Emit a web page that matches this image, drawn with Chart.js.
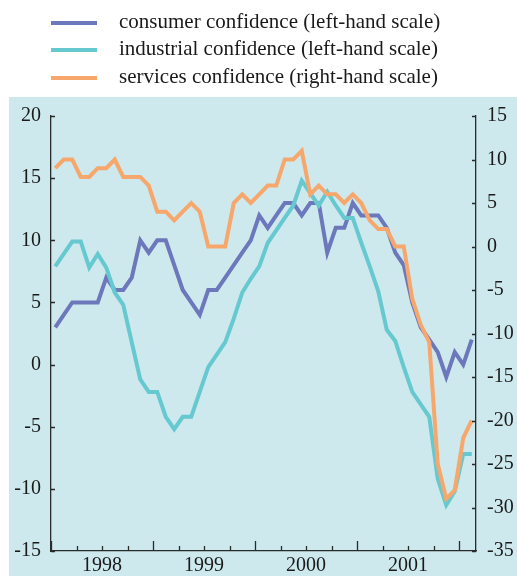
<!DOCTYPE html>
<html>
<head>
<meta charset="utf-8">
<script src="https://cdn.jsdelivr.net/npm/chart.js@4.4.1/dist/chart.umd.min.js"></script>
<style>
  body { margin: 0; background: #fff; }
  #wrap { position: relative; width: 517px; height: 576px; overflow: hidden; }
  #chart { position: absolute; left: 0; top: 0; }
  .row { position: absolute; left: 0; height: 24px; width: 517px; }
  .swatch { position: absolute; left: 51px; width: 46px; height: 4px; }
  .label { position: absolute; left: 119px; top: 0; font: 21px/24px "Liberation Serif", serif; color: #1a1a1a; white-space: nowrap; }
</style>
</head>
<body>
<div id="wrap">
  <canvas id="chart" width="517" height="576"></canvas>
  <div id="legend"></div>
</div>
<script>
// monthly, Jan 1998 - Feb 2002
const months = ['1998-01','1998-02','1998-03','1998-04','1998-05','1998-06','1998-07','1998-08','1998-09','1998-10','1998-11','1998-12',
  '1999-01','1999-02','1999-03','1999-04','1999-05','1999-06','1999-07','1999-08','1999-09','1999-10','1999-11','1999-12',
  '2000-01','2000-02','2000-03','2000-04','2000-05','2000-06','2000-07','2000-08','2000-09','2000-10','2000-11','2000-12',
  '2001-01','2001-02','2001-03','2001-04','2001-05','2001-06','2001-07','2001-08','2001-09','2001-10','2001-11','2001-12',
  '2002-01','2002-02']

const consumer = [3,4,5,5,5,5,7,6,6,7,10,9, 10,10,8,6,5,4,6,6,7,8,9,10,
  12,11,12,13,13,12,13,13,9,11,11,13, 12,12,12,11,9,8,5,3,2,1,-1,1, 0,2]

const industrial = [7.9,8.9,9.9,9.9,7.8,8.9,7.8,5.8,4.8,1.8,-1.2,-2.2,
  -2.2,-4.2,-5.2,-4.2,-4.2,-2.2,-0.2,0.8,1.8,3.7,5.8,6.9,
  7.9,9.8,10.8,11.8,12.8,14.8,13.8,12.8,13.9,12.8,11.8,11.8,
  9.8,7.9,5.9,2.8,1.9,-0.2,-2.2,-3.2,-4.2,-9.2,-11.3,-10.2,
  -7.2,-7.2]

const services = [9,10,10,8,8,9,9,10,8,8,8,7, 4,4,3,4,5,4,0,0,0,5,6,5,
  6,7,7,10,10,11,6,7,6,6,5,6, 5,3,2,2,0,0,-6,-9,-11,-25,-29,-28, -22,-20]

const seriesNames = [
  'consumer confidence (left-hand scale)',
  'industrial confidence (left-hand scale)',
  'services confidence (right-hand scale)'
]
const seriesColors = ['#6c78bb', '#67c9d0', '#f8a76c']

const yearLabels = ['1998', '1999', '2000', '2001']
const leftTicks = [-15, -10, -5, 0, 5, 10, 15, 20]
const rightTicks = [-35, -30, -25, -20, -15, -10, -5, 0, 5, 10, 15]

const FONT = { family: '"Liberation Serif", serif', size: 20 }
const INK = '#1a1a1a'
const AXIS = '#2a2a2a'

let toPoints = (arr) => arr.map((v, i) => ({ x: i + 0.5, y: v, month: months[i] }))

// light blue panel + inward tick marks
const framePlugin = {
  id: 'frame',
  beforeDraw(chart) {
    const ctx = chart.ctx
    ctx.save()
    ctx.fillStyle = '#cde9ed'
    ctx.fillRect(9, 97, 508, 479)
    ctx.restore()
  },
  afterDraw(chart) {
    const ctx = chart.ctx
    const { x, y, y2 } = chart.scales
    ctx.save()
    ctx.strokeStyle = AXIS
    ctx.lineWidth = 1.3
    ctx.beginPath()
    for (let v of leftTicks) {
      const py = Math.round(y.getPixelForValue(v)) + 0.5
      ctx.moveTo(x.left, py); ctx.lineTo(x.left + 4, py)
    }
    for (let v of rightTicks) {
      const py = Math.round(y2.getPixelForValue(v)) + 0.5
      ctx.moveTo(x.right, py); ctx.lineTo(x.right - 4, py)
    }
    for (let m = 0; m <= months.length; m += 3) {
      const px = Math.round(x.getPixelForValue(m)) + 0.5
      const len = m % 12 === 0 ? 10 : 5
      ctx.moveTo(px, y.bottom); ctx.lineTo(px, y.bottom - len)
    }
    ctx.stroke()
    ctx.restore()
  }
}

const datasets = [
  { data: toPoints(consumer), yAxisID: 'y', order: 2 },
  { data: toPoints(industrial), yAxisID: 'y', order: 1 },
  { data: toPoints(services), yAxisID: 'y2', order: 0 }
].map((ds, i) => Object.assign(ds, {
  label: seriesNames[i],
  borderColor: seriesColors[i],
  backgroundColor: seriesColors[i],
  borderWidth: 4,
  pointRadius: 0,
  tension: 0,
  fill: false
}))

new Chart(document.getElementById('chart'), {
  type: 'line',
  data: { datasets: datasets },
  plugins: [framePlugin],
  options: {
    responsive: false,
    animation: false,
    layout: { padding: { top: 116, left: 0, right: 0, bottom: 0 } },
    plugins: { legend: { display: false }, tooltip: { enabled: false } },
    scales: {
      x: {
        type: 'linear',
        min: 0,
        max: months.length,
        afterBuildTicks: (scale) => {
          scale.ticks = yearLabels.map((lab, i) => ({ value: i * 12 + 6, label: lab }))
        },
        afterFit: (scale) => { scale.height = 25 },
        ticks: { font: FONT, color: INK, padding: 3, maxRotation: 0, autoSkip: false,
          callback: (val) => yearLabels[(val - 6) / 12] },
        grid: { display: true, drawOnChartArea: false, drawTicks: false },
        border: { display: true, color: AXIS, width: 1.3 }
      },
      y: {
        position: 'left',
        min: -15,
        max: 20,
        afterBuildTicks: (scale) => { scale.ticks = leftTicks.map(v => ({ value: v })) },
        afterFit: (scale) => { scale.width = 51 },
        ticks: { font: FONT, color: INK, padding: 10 },
        grid: { display: true, drawOnChartArea: false, drawTicks: false },
        border: { display: true, color: AXIS, width: 1.3 }
      },
      y2: {
        position: 'right',
        min: -35,
        max: 15,
        afterBuildTicks: (scale) => { scale.ticks = rightTicks.map(v => ({ value: v })) },
        afterFit: (scale) => { scale.width = 41 },
        ticks: { font: FONT, color: INK, padding: 11 },
        grid: { display: true, drawOnChartArea: false, drawTicks: false },
        border: { display: true, color: AXIS, width: 1.3 }
      }
    }
  }
})

// legend, one row per series
const legend = document.getElementById('legend')
seriesNames.forEach((name, i) => {
  const cy = 22.8 + 27.4 * i
  const row = document.createElement('div')
  row.className = 'row'
  row.style.top = (cy - 14) + 'px'
  const sw = document.createElement('div')
  sw.className = 'swatch'
  sw.style.top = '12px'
  sw.style.background = seriesColors[i]
  const lab = document.createElement('div')
  lab.className = 'label'
  lab.textContent = name
  row.appendChild(sw)
  row.appendChild(lab)
  legend.appendChild(row)
})
</script>
</body>
</html>
